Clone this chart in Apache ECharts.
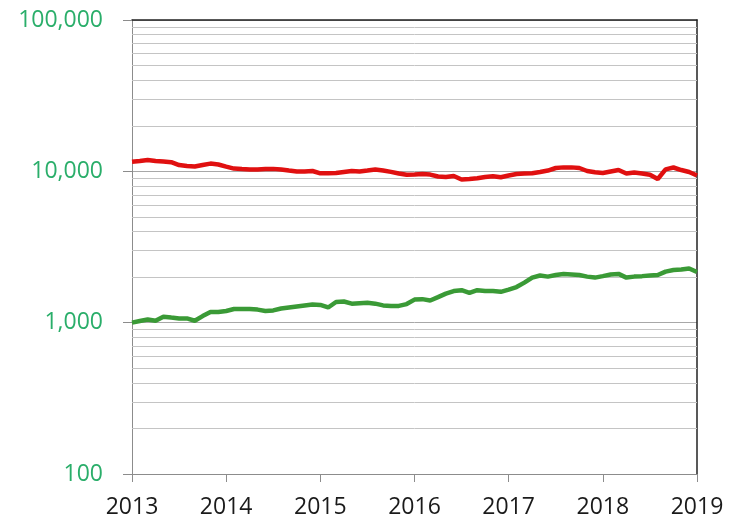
<!DOCTYPE html>
<html>
<head>
<meta charset="utf-8">
<script src="https://cdn.jsdelivr.net/npm/echarts@6/dist/echarts.min.js"></script>
<style>
  html, body { margin: 0; padding: 0; background: #fff; }
  #main { width: 731px; height: 527px; }
</style>
</head>
<body>
<div id="main"></div>
<script>
// monthly values, Jan 2013 .. Jan 2019
var startYear = 2013;
var redValues = [
  11570, 11700, 11880, 11700, 11600, 11500, 11000, 10850, 10750, 11000, 11250, 11100,
  10750, 10430, 10350, 10280, 10280, 10350, 10380, 10280, 10120, 9970, 9970, 10050,
  9700, 9700, 9740, 9900, 10050, 9970, 10120, 10280, 10120, 9920, 9670, 9500,
  9520, 9600, 9520, 9240, 9170, 9310, 8830, 8900, 8990, 9170, 9270, 9130,
  9380, 9600, 9670, 9710, 9900, 10120, 10520, 10620, 10620, 10520, 10050, 9850,
  9740, 9970, 10200, 9670, 9820, 9670, 9500, 8900, 10300, 10600, 10200, 9900,
  9380
];
var greenValues = [
  1000, 1025, 1050, 1030, 1095, 1080, 1067, 1067, 1030, 1105, 1175, 1175,
  1195, 1230, 1230, 1230, 1220, 1195, 1205, 1240, 1260, 1280, 1300, 1320,
  1310, 1260, 1370, 1380, 1335, 1345, 1353, 1335, 1300, 1290, 1290, 1327,
  1420, 1430, 1400, 1475, 1555, 1617, 1640, 1575, 1640, 1617, 1617, 1599,
  1655, 1720, 1840, 1985, 2050, 2015, 2064, 2095, 2080, 2064, 2015, 1985,
  2030, 2080, 2100, 1985, 2015, 2030, 2050, 2064, 2175, 2227, 2245, 2280,
  2160
];
var yearTicks = [2013, 2014, 2015, 2016, 2017, 2018, 2019];
var decades = [100, 1000, 10000];
var minorSteps = [2, 3, 4, 5, 6, 7, 8, 9];

function toPairs(values) {
  return values.map(function (v, i) { return [startYear + i / 12, v]; });
}

var minorLines = [];
decades.forEach(function (d) {
  minorSteps.forEach(function (m) { minorLines.push({ yAxis: d * m }); });
});

var labelFont = '"Open Sans", sans-serif';

var option = {
  animation: false,
  grid: { left: 132, right: 34, top: 20, bottom: 53 },
  xAxis: [{
    type: 'value',
    min: 2013,
    max: 2019,
    interval: 1,
    axisLine: { onZero: false, lineStyle: { color: '#8c8c8c', width: 1 } },
    axisTick: { show: true, length: 8, lineStyle: { color: '#8c8c8c' } },
    axisLabel: {
      color: '#1a1a1a', fontSize: 23, fontFamily: labelFont, margin: 22,
      formatter: function (v) { return yearTicks.indexOf(v) >= 0 ? String(v) : ''; }
    },
    splitLine: { show: false }
  }, {
    type: 'value',
    position: 'top',
    min: 2013,
    max: 2019,
    axisLine: { show: true, onZero: false, lineStyle: { color: '#222', width: 1.5 } },
    axisTick: { show: false },
    axisLabel: { show: false },
    splitLine: { show: false }
  }],
  yAxis: [{
    type: 'log',
    logBase: 10,
    min: 100,
    max: 100000,
    axisLine: { show: true, onZero: false, lineStyle: { color: '#8c8c8c', width: 1 } },
    axisTick: { show: true, length: 9, lineStyle: { color: '#8c8c8c' } },
    axisLabel: {
      color: '#2aae6a', fontSize: 23, fontFamily: labelFont, margin: 29,
      formatter: function (v) { return Math.round(v).toLocaleString('en-US'); }
    },
    splitLine: { show: true, lineStyle: { color: '#a8a8a8', width: 1 } }
  }, {
    type: 'log',
    logBase: 10,
    min: 100,
    max: 100000,
    position: 'right',
    axisLine: { show: true, onZero: false, lineStyle: { color: '#222', width: 1.5 } },
    axisTick: { show: false },
    axisLabel: { show: false },
    splitLine: { show: false }
  }],
  series: [
    {
      type: 'line',
      data: [],
      z: 1,
      silent: true,
      markLine: {
        silent: true,
        z: 1,
        symbol: 'none',
        label: { show: false },
        lineStyle: { color: '#c4c4c4', width: 1, type: 'solid' },
        data: minorLines
      }
    },
    {
      name: 'red',
      type: 'line',
      data: toPairs(redValues),
      showSymbol: false,
      z: 3,
      lineStyle: { color: '#e01010', width: 4.5 },
      itemStyle: { color: '#e01010' }
    },
    {
      name: 'green',
      type: 'line',
      data: toPairs(greenValues),
      showSymbol: false,
      z: 3,
      lineStyle: { color: '#3a9a36', width: 4.5 },
      itemStyle: { color: '#3a9a36' }
    }
  ]
};

var myChart = echarts.init(document.getElementById('main'));
myChart.setOption(option);
</script>
</body>
</html>
